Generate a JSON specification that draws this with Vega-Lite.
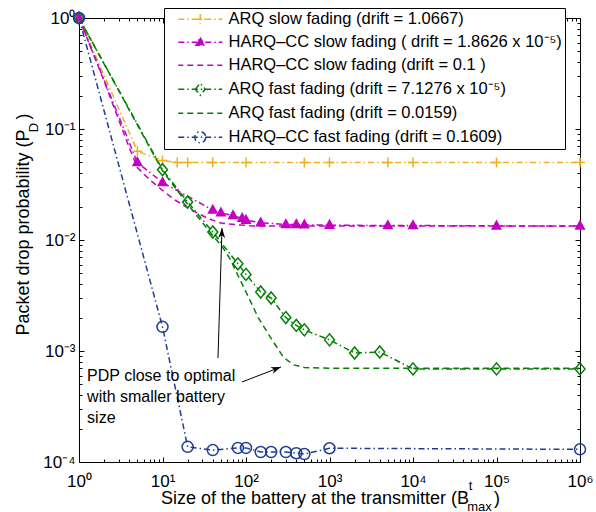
{
  "$schema": "https://vega.github.io/schema/vega-lite/v6.json",
  "width": 501,
  "height": 444,
  "autosize": {"type": "none"},
  "padding": {"left": 79, "top": 18, "right": 16, "bottom": 50},
  "background": "white",
  "datasets": {
    "curves": [
      {"s": "ARQ slow fading (drift = 1.0667)", "x": 1, "y": 1},
      {"s": "ARQ slow fading (drift = 1.0667)", "x": 5, "y": 0.063},
      {"s": "ARQ slow fading (drift = 1.0667)", "x": 10, "y": 0.052},
      {"s": "ARQ slow fading (drift = 1.0667)", "x": 15, "y": 0.05},
      {"s": "ARQ slow fading (drift = 1.0667)", "x": 20, "y": 0.05},
      {"s": "ARQ slow fading (drift = 1.0667)", "x": 40, "y": 0.05},
      {"s": "ARQ slow fading (drift = 1.0667)", "x": 100, "y": 0.05},
      {"s": "ARQ slow fading (drift = 1.0667)", "x": 500, "y": 0.05},
      {"s": "ARQ slow fading (drift = 1.0667)", "x": 1000, "y": 0.05},
      {"s": "ARQ slow fading (drift = 1.0667)", "x": 5000, "y": 0.05},
      {"s": "ARQ slow fading (drift = 1.0667)", "x": 10000, "y": 0.05},
      {"s": "ARQ slow fading (drift = 1.0667)", "x": 100000, "y": 0.05},
      {"s": "ARQ slow fading (drift = 1.0667)", "x": 1000000, "y": 0.05},
      {"s": "HARQ–CC slow fading ( drift = 1.8626 x 10⁻⁵)", "x": 1, "y": 1},
      {"s": "HARQ–CC slow fading ( drift = 1.8626 x 10⁻⁵)", "x": 5, "y": 0.05},
      {"s": "HARQ–CC slow fading ( drift = 1.8626 x 10⁻⁵)", "x": 10, "y": 0.033},
      {"s": "HARQ–CC slow fading ( drift = 1.8626 x 10⁻⁵)", "x": 40, "y": 0.0186},
      {"s": "HARQ–CC slow fading ( drift = 1.8626 x 10⁻⁵)", "x": 50, "y": 0.0176},
      {"s": "HARQ–CC slow fading ( drift = 1.8626 x 10⁻⁵)", "x": 70, "y": 0.0166},
      {"s": "HARQ–CC slow fading ( drift = 1.8626 x 10⁻⁵)", "x": 90, "y": 0.0157},
      {"s": "HARQ–CC slow fading ( drift = 1.8626 x 10⁻⁵)", "x": 100, "y": 0.0151},
      {"s": "HARQ–CC slow fading ( drift = 1.8626 x 10⁻⁵)", "x": 150, "y": 0.0143},
      {"s": "HARQ–CC slow fading ( drift = 1.8626 x 10⁻⁵)", "x": 300, "y": 0.0138},
      {"s": "HARQ–CC slow fading ( drift = 1.8626 x 10⁻⁵)", "x": 400, "y": 0.0138},
      {"s": "HARQ–CC slow fading ( drift = 1.8626 x 10⁻⁵)", "x": 500, "y": 0.0137},
      {"s": "HARQ–CC slow fading ( drift = 1.8626 x 10⁻⁵)", "x": 1000, "y": 0.0136},
      {"s": "HARQ–CC slow fading ( drift = 1.8626 x 10⁻⁵)", "x": 5000, "y": 0.0135},
      {"s": "HARQ–CC slow fading ( drift = 1.8626 x 10⁻⁵)", "x": 10000, "y": 0.0135},
      {"s": "HARQ–CC slow fading ( drift = 1.8626 x 10⁻⁵)", "x": 100000, "y": 0.0134},
      {"s": "HARQ–CC slow fading ( drift = 1.8626 x 10⁻⁵)", "x": 1000000, "y": 0.0134},
      {"s": "HARQ–CC slow fading (drift = 0.1 )", "x": 1, "y": 1},
      {"s": "HARQ–CC slow fading (drift = 0.1 )", "x": 2, "y": 0.27},
      {"s": "HARQ–CC slow fading (drift = 0.1 )", "x": 3, "y": 0.12},
      {"s": "HARQ–CC slow fading (drift = 0.1 )", "x": 4, "y": 0.068},
      {"s": "HARQ–CC slow fading (drift = 0.1 )", "x": 5, "y": 0.045},
      {"s": "HARQ–CC slow fading (drift = 0.1 )", "x": 7, "y": 0.035},
      {"s": "HARQ–CC slow fading (drift = 0.1 )", "x": 10, "y": 0.028},
      {"s": "HARQ–CC slow fading (drift = 0.1 )", "x": 14, "y": 0.023},
      {"s": "HARQ–CC slow fading (drift = 0.1 )", "x": 20, "y": 0.0195},
      {"s": "HARQ–CC slow fading (drift = 0.1 )", "x": 34, "y": 0.0158},
      {"s": "HARQ–CC slow fading (drift = 0.1 )", "x": 50, "y": 0.0142},
      {"s": "HARQ–CC slow fading (drift = 0.1 )", "x": 80, "y": 0.0137},
      {"s": "HARQ–CC slow fading (drift = 0.1 )", "x": 120, "y": 0.0134},
      {"s": "HARQ–CC slow fading (drift = 0.1 )", "x": 1000000, "y": 0.0134},
      {"s": "ARQ fast fading (drift = 7.1276 x 10⁻⁵)", "x": 1, "y": 1},
      {"s": "ARQ fast fading (drift = 7.1276 x 10⁻⁵)", "x": 10, "y": 0.043},
      {"s": "ARQ fast fading (drift = 7.1276 x 10⁻⁵)", "x": 20, "y": 0.022},
      {"s": "ARQ fast fading (drift = 7.1276 x 10⁻⁵)", "x": 40, "y": 0.0118},
      {"s": "ARQ fast fading (drift = 7.1276 x 10⁻⁵)", "x": 80, "y": 0.0061},
      {"s": "ARQ fast fading (drift = 7.1276 x 10⁻⁵)", "x": 100, "y": 0.0049},
      {"s": "ARQ fast fading (drift = 7.1276 x 10⁻⁵)", "x": 150, "y": 0.0034},
      {"s": "ARQ fast fading (drift = 7.1276 x 10⁻⁵)", "x": 200, "y": 0.003},
      {"s": "ARQ fast fading (drift = 7.1276 x 10⁻⁵)", "x": 300, "y": 0.002},
      {"s": "ARQ fast fading (drift = 7.1276 x 10⁻⁵)", "x": 400, "y": 0.0017},
      {"s": "ARQ fast fading (drift = 7.1276 x 10⁻⁵)", "x": 500, "y": 0.00155},
      {"s": "ARQ fast fading (drift = 7.1276 x 10⁻⁵)", "x": 1000, "y": 0.00126},
      {"s": "ARQ fast fading (drift = 7.1276 x 10⁻⁵)", "x": 2000, "y": 0.00096},
      {"s": "ARQ fast fading (drift = 7.1276 x 10⁻⁵)", "x": 4000, "y": 0.00098},
      {"s": "ARQ fast fading (drift = 7.1276 x 10⁻⁵)", "x": 10000, "y": 0.00069},
      {"s": "ARQ fast fading (drift = 7.1276 x 10⁻⁵)", "x": 100000, "y": 0.00069},
      {"s": "ARQ fast fading (drift = 7.1276 x 10⁻⁵)", "x": 1000000, "y": 0.00069},
      {"s": "ARQ fast fading (drift = 0.0159)", "x": 1, "y": 1},
      {"s": "ARQ fast fading (drift = 0.0159)", "x": 10, "y": 0.042},
      {"s": "ARQ fast fading (drift = 0.0159)", "x": 20, "y": 0.021},
      {"s": "ARQ fast fading (drift = 0.0159)", "x": 40, "y": 0.011},
      {"s": "ARQ fast fading (drift = 0.0159)", "x": 53, "y": 0.0085},
      {"s": "ARQ fast fading (drift = 0.0159)", "x": 64, "y": 0.0068},
      {"s": "ARQ fast fading (drift = 0.0159)", "x": 100, "y": 0.0034},
      {"s": "ARQ fast fading (drift = 0.0159)", "x": 140, "y": 0.002},
      {"s": "ARQ fast fading (drift = 0.0159)", "x": 200, "y": 0.0013},
      {"s": "ARQ fast fading (drift = 0.0159)", "x": 280, "y": 0.00088},
      {"s": "ARQ fast fading (drift = 0.0159)", "x": 370, "y": 0.00075},
      {"s": "ARQ fast fading (drift = 0.0159)", "x": 500, "y": 0.00071},
      {"s": "ARQ fast fading (drift = 0.0159)", "x": 1000, "y": 0.0007},
      {"s": "ARQ fast fading (drift = 0.0159)", "x": 1000000, "y": 0.0007},
      {"s": "HARQ–CC fast fading (drift = 0.1609)", "x": 1, "y": 1},
      {"s": "HARQ–CC fast fading (drift = 0.1609)", "x": 10, "y": 0.00165},
      {"s": "HARQ–CC fast fading (drift = 0.1609)", "x": 20, "y": 0.000137},
      {"s": "HARQ–CC fast fading (drift = 0.1609)", "x": 40, "y": 0.000128},
      {"s": "HARQ–CC fast fading (drift = 0.1609)", "x": 80, "y": 0.000134},
      {"s": "HARQ–CC fast fading (drift = 0.1609)", "x": 100, "y": 0.000134},
      {"s": "HARQ–CC fast fading (drift = 0.1609)", "x": 150, "y": 0.000123},
      {"s": "HARQ–CC fast fading (drift = 0.1609)", "x": 200, "y": 0.000123},
      {"s": "HARQ–CC fast fading (drift = 0.1609)", "x": 300, "y": 0.000123},
      {"s": "HARQ–CC fast fading (drift = 0.1609)", "x": 400, "y": 0.00012},
      {"s": "HARQ–CC fast fading (drift = 0.1609)", "x": 500, "y": 0.000118},
      {"s": "HARQ–CC fast fading (drift = 0.1609)", "x": 1000, "y": 0.000133},
      {"s": "HARQ–CC fast fading (drift = 0.1609)", "x": 1000000, "y": 0.00013}
    ],
    "arrows": [
      {"x": 46.2, "y": 0.000865, "x2": 51.6, "y2": 0.0128},
      {"x": 89.6, "y": 0.000526, "x2": 262, "y2": 0.000718}
    ],
    "note": [
      {"x": 1.25, "y": 0.000537, "label": "PDP close to optimal\nwith smaller battery\nsize"}
    ]
  },
  "layer": [
    {
      "data": {"name": "curves"},
      "mark": {"type": "line", "strokeWidth": 1.5},
      "encoding": {
        "x": {"field": "x", "type": "quantitative", "scale": {"type": "log", "domain": [1, 1000000], "nice": false},
          "axis": {"orient": "bottom", "values": [1, 10, 100, 1000, 10000, 100000, 1000000],
            "labelExpr": "'10' + ['⁰','¹','²','³','⁴','⁵','⁶'][round(log(datum.value)/LN10)]",
            "tickSize": -5, "labelPadding": 16, "labelFontSize": 17,
            "title": "Size of the battery at the transmitter (B\u00a0\u00a0\u00a0\u00a0\u00a0)",
            "titleFontSize": 18, "titleX": 251, "titleY": 41, "titleAlign": "center", "titleBaseline": "alphabetic"}},
        "y": {"field": "y", "type": "quantitative", "scale": {"type": "log", "domain": [0.0001, 1], "nice": false},
          "axis": {"orient": "left", "values": [0.0001, 0.001, 0.01, 0.1, 1],
            "labelExpr": "'10' + (datum.value >= 1 ? '⁰' : '⁻' + ['','¹','²','³','⁴'][round(-log(datum.value)/LN10)])",
            "tickSize": -5, "labelPadding": 9, "labelFontSize": 17,
            "title": "Packet drop probability (P\u00a0\u00a0)", "titleFontSize": 18,
            "titleAngle": 270, "titleX": -51, "titleY": 95, "titleAlign": "right", "titleBaseline": "alphabetic"}},
        "color": {"field": "s", "type": "nominal",
          "scale": {"domain": ["ARQ slow fading (drift = 1.0667)", "HARQ–CC slow fading ( drift = 1.8626 x 10⁻⁵)", "HARQ–CC slow fading (drift = 0.1 )", "ARQ fast fading (drift = 7.1276 x 10⁻⁵)", "ARQ fast fading (drift = 0.0159)", "HARQ–CC fast fading (drift = 0.1609)"],
            "range": ["#EEB020", "#C400C4", "#C400C4", "#008000", "#008000", "#1F3B94"]},
          "legend": {"orient": "none", "legendX": 85, "legendY": -10, "title": null,
            "labelFontSize": 16.5, "labelFont": "Liberation Sans", "labelColor": "black", "labelLimit": 600,
            "strokeColor": "black", "fillColor": "white", "padding": 3, "rowPadding": 6,
            "symbolSize": 100, "symbolStrokeWidth": 1.5, "symbolOffset": 25, "labelOffset": 20,
            "encode": {"symbols": {"update": {
              "shape": {"signal": "['M-4.4,0L-3.2,0M-2.6,0L-2.3,0M-1.7,0L-0.5,0M0.1,0L0.4,0M1,0L2.2,0M2.8,0L3.1,0M3.7,0L4.4,0M-1,0L1,0M0,-1L0,1', 'M-4.4,0L-3.2,0M-2.6,0L-2.3,0M-1.7,0L-0.5,0M0.1,0L0.4,0M1,0L2.2,0M2.8,0L3.1,0M3.7,0L4.4,0M0,-0.95L0.85,0.6L-0.85,0.6Z', 'M-4.4,0L-3.4,0M-2.6,0L-1.4,0M-0.6,0L0.6,0M1.4,0L2.6,0M3.4,0L4.4,0', 'M-4.4,0L-3.2,0M-2.6,0L-2.3,0M-1.7,0L-0.5,0M0.1,0L0.4,0M1,0L2.2,0M2.8,0L3.1,0M3.7,0L4.4,0M-1,0L0,-1.2L1,0L0,1.2Z', 'M-4.4,0L-3.4,0M-2.6,0L-1.4,0M-0.6,0L0.6,0M1.4,0L2.6,0M3.4,0L4.4,0', 'M-4.4,0L-3.2,0M-2.6,0L-2.3,0M-1.7,0L-0.5,0M0.1,0L0.4,0M1,0L2.2,0M2.8,0L3.1,0M3.7,0L4.4,0M1.1,0A1.1,1.1,0,1,1,-1.1,0A1.1,1.1,0,1,1,1.1,0Z'][datum.index]"},
              "fill": {"signal": "datum.index == 1 ? '#C400C4' : 'transparent'"},
              "strokeDash": {"value": []},
              "size": {"value": 100},
              "strokeWidth": {"value": 1.5},
              "opacity": {"value": 1}
            }}}}},
        "strokeDash": {"field": "s", "type": "nominal",
          "scale": {"domain": ["ARQ slow fading (drift = 1.0667)", "HARQ–CC slow fading ( drift = 1.8626 x 10⁻⁵)", "HARQ–CC slow fading (drift = 0.1 )", "ARQ fast fading (drift = 7.1276 x 10⁻⁵)", "ARQ fast fading (drift = 0.0159)", "HARQ–CC fast fading (drift = 0.1609)"],
            "range": [[6, 3, 1.5, 3], [6, 3, 1.5, 3], [6, 4], [6, 3, 1.5, 3], [6, 4], [6, 3, 1.5, 3]]},
          "legend": null}
      }
    },
    {
      "data": {"name": "curves"},
      "transform": [{"filter": {"field": "s", "oneOf": ["ARQ slow fading (drift = 1.0667)", "HARQ–CC slow fading ( drift = 1.8626 x 10⁻⁵)", "ARQ fast fading (drift = 7.1276 x 10⁻⁵)", "HARQ–CC fast fading (drift = 0.1609)"]}}],
      "mark": {"type": "point", "size": 100, "strokeWidth": 1.5, "opacity": 1},
      "encoding": {
        "x": {"field": "x", "type": "quantitative", "scale": {"type": "log", "domain": [1, 1000000], "nice": false},
          "axis": {"orient": "bottom", "values": [2,3,4,5,6,7,8,9,20,30,40,50,60,70,80,90,200,300,400,500,600,700,800,900,2000,3000,4000,5000,6000,7000,8000,9000,20000,30000,40000,50000,60000,70000,80000,90000,200000,300000,400000,500000,600000,700000,800000,900000],
            "labels": false, "tickSize": -3, "title": "t", "titleFontSize": 13, "titleX": 391, "titleY": 27, "titleAlign": "center", "titleBaseline": "alphabetic"}},
        "y": {"field": "y", "type": "quantitative", "scale": {"type": "log", "domain": [0.0001, 1], "nice": false},
          "axis": {"orient": "left", "values": [0.0002,0.0003,0.0004,0.0005,0.0006,0.0007,0.0008,0.0009,0.002,0.003,0.004,0.005,0.006,0.007,0.008,0.009,0.02,0.03,0.04,0.05,0.06,0.07,0.08,0.09,0.2,0.3,0.4,0.5,0.6,0.7,0.8,0.9],
            "labels": false, "tickSize": -3, "title": "D", "titleFontSize": 13, "titleAngle": 270, "titleX": -42, "titleY": 109, "titleAlign": "center", "titleBaseline": "alphabetic"}},
        "shape": {"field": "s", "type": "nominal",
          "scale": {"domain": ["ARQ slow fading (drift = 1.0667)", "HARQ–CC slow fading ( drift = 1.8626 x 10⁻⁵)", "ARQ fast fading (drift = 7.1276 x 10⁻⁵)", "HARQ–CC fast fading (drift = 0.1609)"],
            "range": ["M-1,0L1,0M0,-1L0,1", "M0,-0.95L0.85,0.6L-0.85,0.6Z", "M-1,0L0,-1.2L1,0L0,1.2Z", "M1.1,0A1.1,1.1,0,1,1,-1.1,0A1.1,1.1,0,1,1,1.1,0Z"]},
          "legend": null},
        "stroke": {"field": "s", "type": "nominal",
          "scale": {"domain": ["ARQ slow fading (drift = 1.0667)", "HARQ–CC slow fading ( drift = 1.8626 x 10⁻⁵)", "ARQ fast fading (drift = 7.1276 x 10⁻⁵)", "HARQ–CC fast fading (drift = 0.1609)"],
            "range": ["#EEB020", "#C400C4", "#008000", "#1F3B94"]},
          "legend": null},
        "fill": {"field": "s", "type": "nominal",
          "scale": {"domain": ["ARQ slow fading (drift = 1.0667)", "HARQ–CC slow fading ( drift = 1.8626 x 10⁻⁵)", "ARQ fast fading (drift = 7.1276 x 10⁻⁵)", "HARQ–CC fast fading (drift = 0.1609)"],
            "range": ["transparent", "#C400C4", "transparent", "transparent"]},
          "legend": null}
      }
    },
    {
      "data": {"name": "arrows"},
      "mark": {"type": "rule", "color": "black", "strokeWidth": 1},
      "encoding": {
        "x": {"field": "x", "type": "quantitative", "scale": {"type": "log", "domain": [1, 1000000], "nice": false},
          "axis": {"orient": "top", "values": [1, 10, 100, 1000, 10000, 100000, 1000000], "labels": false, "tickSize": -5,
            "title": "max", "titleFontSize": 13, "titleX": 400, "titleY": 492, "titleAlign": "center", "titleBaseline": "alphabetic"}},
        "y": {"field": "y", "type": "quantitative", "scale": {"type": "log", "domain": [0.0001, 1], "nice": false},
          "axis": {"orient": "right", "values": [0.0001, 0.001, 0.01, 0.1, 1], "labels": false, "tickSize": -5, "title": null}},
        "x2": {"field": "x2"},
        "y2": {"field": "y2"}
      }
    },
    {
      "data": {"name": "arrows"},
      "mark": {"type": "point", "shape": "M0,0L-0.7,2L0,1.4L0.7,2Z", "size": 100, "filled": true, "color": "black", "opacity": 1, "strokeWidth": 0},
      "encoding": {
        "x": {"field": "x2", "type": "quantitative", "scale": {"type": "log", "domain": [1, 1000000], "nice": false},
          "axis": {"orient": "top", "values": [2,3,4,5,6,7,8,9,20,30,40,50,60,70,80,90,200,300,400,500,600,700,800,900,2000,3000,4000,5000,6000,7000,8000,9000,20000,30000,40000,50000,60000,70000,80000,90000,200000,300000,400000,500000,600000,700000,800000,900000],
            "labels": false, "tickSize": -3, "title": null}},
        "y": {"field": "y2", "type": "quantitative", "scale": {"type": "log", "domain": [0.0001, 1], "nice": false},
          "axis": {"orient": "right", "values": [0.0002,0.0003,0.0004,0.0005,0.0006,0.0007,0.0008,0.0009,0.002,0.003,0.004,0.005,0.006,0.007,0.008,0.009,0.02,0.03,0.04,0.05,0.06,0.07,0.08,0.09,0.2,0.3,0.4,0.5,0.6,0.7,0.8,0.9],
            "labels": false, "tickSize": -3, "title": null}},
        "angle": {"condition": {"test": "datum.x2 > 100", "value": 69}, "value": 2}
      }
    },
    {
      "data": {"name": "note"},
      "mark": {"type": "text", "align": "left", "baseline": "alphabetic", "fontSize": 16, "lineBreak": "\n", "lineHeight": 21, "font": "Liberation Sans", "color": "black"},
      "encoding": {
        "x": {"field": "x", "type": "quantitative", "scale": {"type": "log", "domain": [1, 1000000], "nice": false}, "axis": null},
        "y": {"field": "y", "type": "quantitative", "scale": {"type": "log", "domain": [0.0001, 1], "nice": false}, "axis": null},
        "text": {"field": "label"}
      }
    }
  ],
  "resolve": {"axis": {"x": "independent", "y": "independent"}},
  "config": {
    "view": {"stroke": "black", "strokeWidth": 1},
    "font": "Liberation Sans",
    "axis": {"grid": false, "domain": false, "tickColor": "black", "tickWidth": 1, "labelColor": "black", "titleColor": "black",
      "labelFont": "Liberation Sans", "titleFont": "Liberation Sans", "titleFontWeight": "normal", "labelFlush": false, "labelOverlap": false}
  }
}
